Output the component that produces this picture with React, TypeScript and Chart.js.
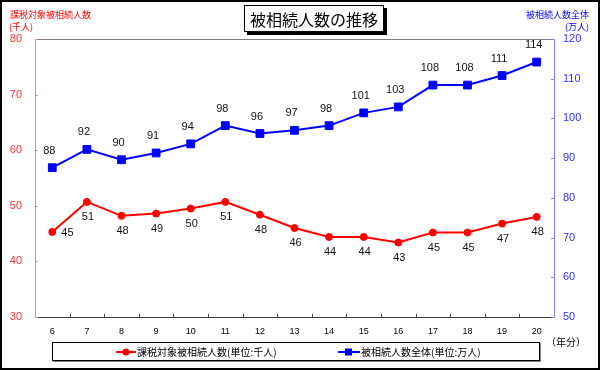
import React, { useEffect, useRef } from "react";
import { Chart, registerables } from "chart.js";

Chart.register(...registerables);

const NUM_FONT = "'Liberation Sans', Arial, 'Noto Sans CJK JP', sans-serif";
const JP_FONT = "'Noto Sans CJK JP', 'Liberation Sans', sans-serif";

const years = ["6", "7", "8", "9", "10", "11", "12", "13", "14", "15", "16", "17", "18", "19", "20"];
const taxableDecedents = [45.3, 50.7, 48.2, 48.6, 49.5, 50.7, 48.4, 46.0, 44.4, 44.4, 43.4, 45.2, 45.2, 46.8, 48.0];
const totalDecedents = [87.6, 92.2, 89.6, 91.3, 93.6, 98.2, 96.2, 97.0, 98.2, 101.4, 102.9, 108.4, 108.4, 110.8, 114.2];

const titleText = "被相続人数の推移";
const leftAxisTitle = ["課税対象被相続人数", "(千人)"];
const rightAxisTitle = ["被相続人数全体", "(万人)"];
const xAxisUnit = "（年分）";
const seriesNames = ["課税対象被相続人数(単位:千人)", "被相続人数全体(単位:万人)"];

const RED = "#FF0000";
const BLUE = "#0000FF";
const RED_AXIS = "#FF8080";
const BLUE_AXIS = "#8080FF";

const decorPlugin = {
  id: "decor",
  beforeDraw(chart: any) {
    const ctx = chart.ctx;
    ctx.save();
    ctx.fillStyle = "#FFFFFF";
    ctx.fillRect(0, 0, chart.width, chart.height);
    ctx.restore();
  },
  afterDatasetsDraw(chart: any) {
    const ctx = chart.ctx;
    ctx.save();
    ctx.font = `11px ${NUM_FONT}`;
    ctx.fillStyle = "#111111";
    ctx.textBaseline = "middle";
    const m0 = chart.getDatasetMeta(0);
    m0.data.forEach((pt: any, i: number) => {
      const label = String(Math.round(taxableDecedents[i]));
      if (i === 0) {
        ctx.textAlign = "left";
        ctx.fillText(label, pt.x + 9, pt.y + 1);
      } else {
        ctx.textAlign = "center";
        ctx.fillText(label, pt.x + 1, pt.y + 15);
      }
    });
    const m1 = chart.getDatasetMeta(1);
    m1.data.forEach((pt: any, i: number) => {
      const label = String(Math.round(totalDecedents[i]));
      ctx.textAlign = "center";
      ctx.fillText(label, pt.x - 3, pt.y - 17);
    });
    ctx.restore();
  },
  afterDraw(chart: any) {
    const ctx = chart.ctx;
    const ca = chart.chartArea;
    const xs = chart.scales.x;
    const yl = chart.scales.y;
    const yr = chart.scales.y1;
    ctx.save();

    // top frame line
    ctx.strokeStyle = "#808080";
    ctx.lineWidth = 1;
    ctx.beginPath();
    ctx.moveTo(ca.left, Math.round(ca.top) + 0.5);
    ctx.lineTo(ca.right, Math.round(ca.top) + 0.5);
    ctx.stroke();

    // x tick marks (inside, at category boundaries)
    ctx.strokeStyle = "#404040";
    ctx.beginPath();
    for (let i = 1; i < years.length; i++) {
      const bx = Math.round((xs.getPixelForTick(i - 1) + xs.getPixelForTick(i)) / 2) + 0.5;
      ctx.moveTo(bx, ca.bottom);
      ctx.lineTo(bx, ca.bottom - 3);
    }
    ctx.stroke();

    // left y tick marks
    ctx.strokeStyle = RED_AXIS;
    ctx.beginPath();
    yl.ticks.forEach((t: any) => {
      const py = Math.round(yl.getPixelForValue(t.value)) + 0.5;
      ctx.moveTo(ca.left, py);
      ctx.lineTo(ca.left + 3, py);
    });
    ctx.stroke();

    // right y tick marks
    ctx.strokeStyle = BLUE_AXIS;
    ctx.beginPath();
    yr.ticks.forEach((t: any) => {
      const py = Math.round(yr.getPixelForValue(t.value)) + 0.5;
      ctx.moveTo(ca.right, py);
      ctx.lineTo(ca.right - 3, py);
    });
    ctx.stroke();

    // axis titles
    ctx.font = `9px ${JP_FONT}`;
    ctx.textBaseline = "middle";
    ctx.fillStyle = RED;
    ctx.textAlign = "left";
    ctx.fillText(leftAxisTitle[0], 10, 15);
    ctx.fillText(leftAxisTitle[1], 9, 27);
    ctx.fillStyle = BLUE;
    ctx.textAlign = "right";
    ctx.fillText(rightAxisTitle[0], 589, 15);
    ctx.fillText(rightAxisTitle[1], 589, 27);

    // title box
    const bx = 244, by = 5, bw = 140, bh = 27;
    ctx.fillStyle = "#000000";
    ctx.fillRect(bx + 3, by + 3, bw, bh);
    ctx.fillStyle = "#FFFFFF";
    ctx.fillRect(bx, by, bw, bh);
    ctx.strokeStyle = "#000000";
    ctx.lineWidth = 1;
    ctx.strokeRect(bx + 0.5, by + 0.5, bw - 1, bh - 1);
    ctx.fillStyle = "#000000";
    ctx.font = `16px ${JP_FONT}`;
    ctx.textAlign = "center";
    ctx.fillText(titleText, bx + bw / 2, by + bh / 2 + 1);

    // x unit
    ctx.font = `10px ${JP_FONT}`;
    ctx.textAlign = "left";
    ctx.fillStyle = "#000000";
    ctx.fillText(xAxisUnit, 546, 342);

    // legend box
    const lx = 52, ly = 342, lw = 488, lh = 19;
    ctx.fillStyle = "#FFFFFF";
    ctx.fillRect(lx, ly, lw, lh);
    ctx.strokeStyle = "#000000";
    ctx.lineWidth = 1;
    ctx.strokeRect(lx + 0.5, ly + 0.5, lw - 1, lh - 1);
    ctx.strokeStyle = "#808080";
    ctx.beginPath();
    ctx.moveTo(lx + 1, ly + lh + 0.5);
    ctx.lineTo(lx + lw + 0.5, ly + lh + 0.5);
    ctx.lineTo(lx + lw + 0.5, ly + 1);
    ctx.stroke();

    const legY = ly + lh / 2 + 0.5;
    // red item
    ctx.strokeStyle = RED;
    ctx.lineWidth = 2;
    ctx.beginPath();
    ctx.moveTo(116, legY);
    ctx.lineTo(136, legY);
    ctx.stroke();
    ctx.fillStyle = RED;
    ctx.beginPath();
    ctx.arc(126, legY, 3.5, 0, Math.PI * 2);
    ctx.fill();
    // blue item
    ctx.strokeStyle = BLUE;
    ctx.beginPath();
    ctx.moveTo(338, legY);
    ctx.lineTo(360, legY);
    ctx.stroke();
    ctx.fillStyle = BLUE;
    ctx.fillRect(345, legY - 3.5, 7, 7);

    ctx.font = `10px ${JP_FONT}`;
    ctx.fillStyle = "#000000";
    ctx.textAlign = "left";
    ctx.textBaseline = "middle";
    ctx.fillText(seriesNames[0], 137, legY);
    ctx.fillText(seriesNames[1], 361, legY);

    // outer border
    ctx.strokeStyle = "#000000";
    ctx.lineWidth = 2;
    ctx.strokeRect(1, 1, chart.width - 2, chart.height - 2);

    ctx.restore();
  },
};

export default function App() {
  const canvasRef = useRef<HTMLCanvasElement | null>(null);

  useEffect(() => {
    document.body.style.margin = "0";
    const canvas = canvasRef.current;
    if (!canvas) return;
    const chart = new Chart(canvas, {
      type: "line",
      data: {
        labels: years,
        datasets: [
          {
            label: seriesNames[0],
            data: taxableDecedents,
            yAxisID: "y",
            borderColor: RED,
            backgroundColor: RED,
            borderWidth: 2,
            pointStyle: "circle",
            pointRadius: 3.5,
            pointBorderWidth: 1,
            pointBackgroundColor: RED,
            pointBorderColor: RED,
            tension: 0,
          },
          {
            label: seriesNames[1],
            data: totalDecedents,
            yAxisID: "y1",
            borderColor: BLUE,
            backgroundColor: BLUE,
            borderWidth: 2,
            pointStyle: "rect",
            pointRadius: 5.5,
            pointBorderWidth: 1,
            pointBackgroundColor: BLUE,
            pointBorderColor: BLUE,
            tension: 0,
          },
        ],
      },
      options: {
        responsive: false,
        maintainAspectRatio: false,
        animation: false,
        layout: { padding: { top: 39, left: 0, right: 0, bottom: 0 } },
        plugins: {
          legend: { display: false },
          tooltip: { enabled: false },
          title: { display: false },
        },
        scales: {
          x: {
            type: "category",
            offset: true,
            grid: { display: false, drawTicks: false },
            border: { display: true, color: "#404040", width: 1 },
            ticks: {
              color: "#000000",
              font: { size: 9, family: NUM_FONT },
              padding: 9,
              maxRotation: 0,
              autoSkip: false,
            },
            afterFit: (s: any) => {
              s.height = 53;
            },
          },
          y: {
            position: "left",
            min: 30,
            max: 80,
            grid: { display: false, drawTicks: false },
            border: { display: true, color: RED_AXIS, width: 1 },
            ticks: {
              stepSize: 10,
              color: "#FF3030",
              font: { size: 11, family: NUM_FONT },
              padding: 13,
            },
            afterFit: (s: any) => {
              s.width = 35;
            },
          },
          y1: {
            position: "right",
            min: 50,
            max: 120,
            grid: { display: false, drawTicks: false },
            border: { display: true, color: BLUE_AXIS, width: 1 },
            ticks: {
              stepSize: 10,
              color: "#3030FF",
              font: { size: 11, family: NUM_FONT },
              padding: 9,
            },
            afterFit: (s: any) => {
              s.width = 46;
            },
          },
        },
      },
      plugins: [decorPlugin],
    } as any);
    return () => {
      chart.destroy();
    };
  }, []);

  return (
    <div style={{ position: "relative", width: 600, height: 370 }}>
      <canvas ref={canvasRef} width={600} height={370} style={{ display: "block", width: 600, height: 370 }} />
    </div>
  );
}
